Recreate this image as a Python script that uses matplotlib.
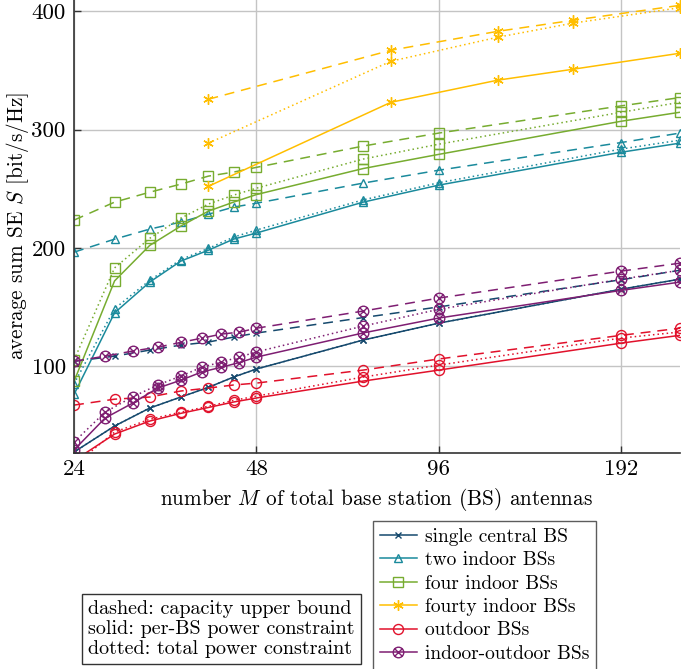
import matplotlib
matplotlib.use("Agg")
import matplotlib.pyplot as plt
from matplotlib.lines import Line2D
from matplotlib.path import Path
from matplotlib.ticker import FixedLocator, FixedFormatter, NullLocator
import numpy as np

plt.rcParams['font.family'] = ['cmr10', 'DejaVu Serif']
plt.rcParams['mathtext.fontset'] = 'cm'
plt.rcParams['axes.unicode_minus'] = False
plt.rcParams['axes.formatter.use_mathtext'] = True

# ---------------- data ----------------
M4 = [24, 28, 32, 36, 40, 44, 48, 72, 96, 192, 240]
M3 = [24, 27, 30, 33, 36, 39, 42, 45, 48, 72, 96, 192, 240]
M40 = [40, 80, 120, 160, 240]

single_dashed = [104, 108.4, 113.5, 117.7, 120.3, 124.5, 127.9, 141, 150, 173, 181]
single_solid = [27.3, 49.3, 64.5, 73.8, 82, 90.7, 97.5, 122, 136.3, 165, 173.5]
single_dotted = [27.3, 49.3, 64.5, 73.8, 82, 90.7, 97.5, 122, 136.3, 165, 173.5]

two_dashed = [196.3, 207.3, 215.8, 221.7, 228.4, 234.4, 237.7, 254.7, 265.6, 289, 297]
two_solid = [76, 145, 171, 188.7, 198, 207.3, 212.5, 238.6, 253, 280.8, 288.5]
two_dotted = [85, 148.5, 172.5, 190, 199.5, 209, 215, 240.5, 255, 283.5, 291]

four_dashed = [223.4, 238.6, 247, 253.8, 260.6, 264, 268, 286, 297, 320, 327]
four_solid = [87, 172, 202, 218.3, 231, 238.6, 245, 267, 279, 307, 314.6]
four_dotted = [105, 183, 208, 225, 237, 244.5, 250.4, 275, 287.6, 314.6, 323]

fourty_dashed = [325.6, 367, 383, 392.4, 405]
fourty_solid = [252, 323, 341.7, 351, 364.5]
fourty_dotted = [288.5, 357.7, 378, 390, 403]

outdoor_dashed = [67, 72, 73.8, 78.9, 81.4, 84, 85.6, 96.6, 106, 126, 132]
outdoor_solid = [20, 42.5, 53.5, 60, 65, 69.6, 73, 87.3, 96.6, 119.4, 126]
outdoor_dotted = [16, 44.2, 55, 61, 66, 71, 74.6, 90.7, 100.8, 123.7, 128.8]

io_dashed = [104, 108.4, 112.7, 116, 120, 123.6, 127, 128.7, 132, 146.5, 157.5, 180.3, 187]
io_solid = [29, 56, 68.7, 81.4, 88, 95, 99, 103, 107.6, 128, 140.6, 164, 171]
io_dotted = [35.8, 61, 74, 84, 91.5, 99, 103.4, 107.6, 112, 133.8, 148, 173.5, 181]

labels = ["single central BS", "two indoor BSs", "four indoor BSs",
          "fourty indoor BSs", "outdoor BSs", "indoor-outdoor BSs"]
xticks = [24, 48, 96, 192]
yticks = [100, 200, 300, 400]

# ---------------- styles ----------------
colors = ['#15496d', '#1a8a9c', '#77ac30', '#ffbe00', '#e1112b', '#7e1e72']

# otimes marker: circle with an x inside
circ = Path.unit_circle()
d = np.sqrt(0.5)
verts = list(circ.vertices) + [(-d, -d), (d, d), (-d, d), (d, -d)]
codes = list(circ.codes) + [Path.MOVETO, Path.LINETO, Path.MOVETO, Path.LINETO]
otimes = Path(verts, codes)

markers = ['x', '^', 's', (6, 2, 0), 'o', otimes]
msizes = [5.0, 6.0, 6.8, 7.5, 7.2, 7.6]

series = [
    (M4, single_dashed, single_solid, single_dotted),
    (M4, two_dashed, two_solid, two_dotted),
    (M4, four_dashed, four_solid, four_dotted),
    (M40, fourty_dashed, fourty_solid, fourty_dotted),
    (M4, outdoor_dashed, outdoor_solid, outdoor_dotted),
    (M3, io_dashed, io_solid, io_dotted),
]

dash_ls = (0, (6.5, 4.5))
dot_ls = (0, (1, 2))
lw = 1.1

fig = plt.figure(figsize=(6.85, 6.69), dpi=100)
ax = fig.add_axes([74/685, 1 - 453/669, (680 - 74)/685, 453/669])

for i, (xs, yd, ys, yo) in enumerate(series):
    c = colors[i]
    kw = dict(color=c, marker=markers[i], markersize=msizes[i],
              markerfacecolor='none', markeredgecolor=c, markeredgewidth=1.0,
              lw=lw, clip_on=True)
    ax.plot(xs, yd, linestyle=dash_ls, **kw)
    ax.plot(xs, yo, linestyle=dot_ls, **kw)
    ax.plot(xs, ys, linestyle='-', **kw)

ax.set_xscale('log', base=2)
ax.set_xlim(24, 240)
ax.set_ylim(26.5, 409.5)
ax.xaxis.set_major_locator(FixedLocator(xticks))
ax.xaxis.set_major_formatter(FixedFormatter([str(t) for t in xticks]))
ax.xaxis.set_minor_locator(NullLocator())
ax.yaxis.set_major_locator(FixedLocator(yticks))
ax.yaxis.set_major_formatter(FixedFormatter([str(t) for t in yticks]))
ax.yaxis.set_minor_locator(NullLocator())

ax.grid(True, color='#c4c4c4', lw=1.0)
ax.set_axisbelow(True)
for s in ['top', 'right']:
    ax.spines[s].set_visible(False)
for s in ['left', 'bottom']:
    ax.spines[s].set_color('#333333')
    ax.spines[s].set_linewidth(1.2)
ax.tick_params(direction='in', length=5, width=1.0, color='#333333',
               labelsize=16.5)
ax.tick_params(axis='x', pad=5)
ax.tick_params(axis='y', pad=6)

ax.set_xlabel(r"number $M$ of total base station (BS) antennas", fontsize=15.3, labelpad=5)
ax.set_ylabel(r"average sum SE $S$ [bit/s/Hz]", fontsize=15.3)
ax.yaxis.set_label_coords((31 - 74) / 606, 0.5)

handles = [Line2D([], [], color=colors[i], marker=markers[i], markersize=msizes[i],
                  markerfacecolor='none', markeredgecolor=colors[i],
                  markeredgewidth=1.0, lw=lw)
           for i in range(6)]
leg = fig.legend(handles, labels, loc='upper left',
                 bbox_to_anchor=(373/685, 1 - 521/669), bbox_transform=fig.transFigure,
                 fontsize=14, frameon=True, fancybox=False, edgecolor='#333333',
                 handlelength=1.9, handletextpad=0.4, labelspacing=0.28,
                 borderpad=0.35, borderaxespad=0)
leg.get_frame().set_linewidth(1.0)

fig.text(88/685, 1 - 629/669,
         "dashed: capacity upper bound\nsolid: per-BS power constraint\ndotted: total power constraint",
         fontsize=14.5, ha='left', va='center', linespacing=1.12,
         bbox=dict(boxstyle='square,pad=0.3', facecolor='white', edgecolor='#333333', lw=1.0))

fig.savefig("out.png", dpi=100)
